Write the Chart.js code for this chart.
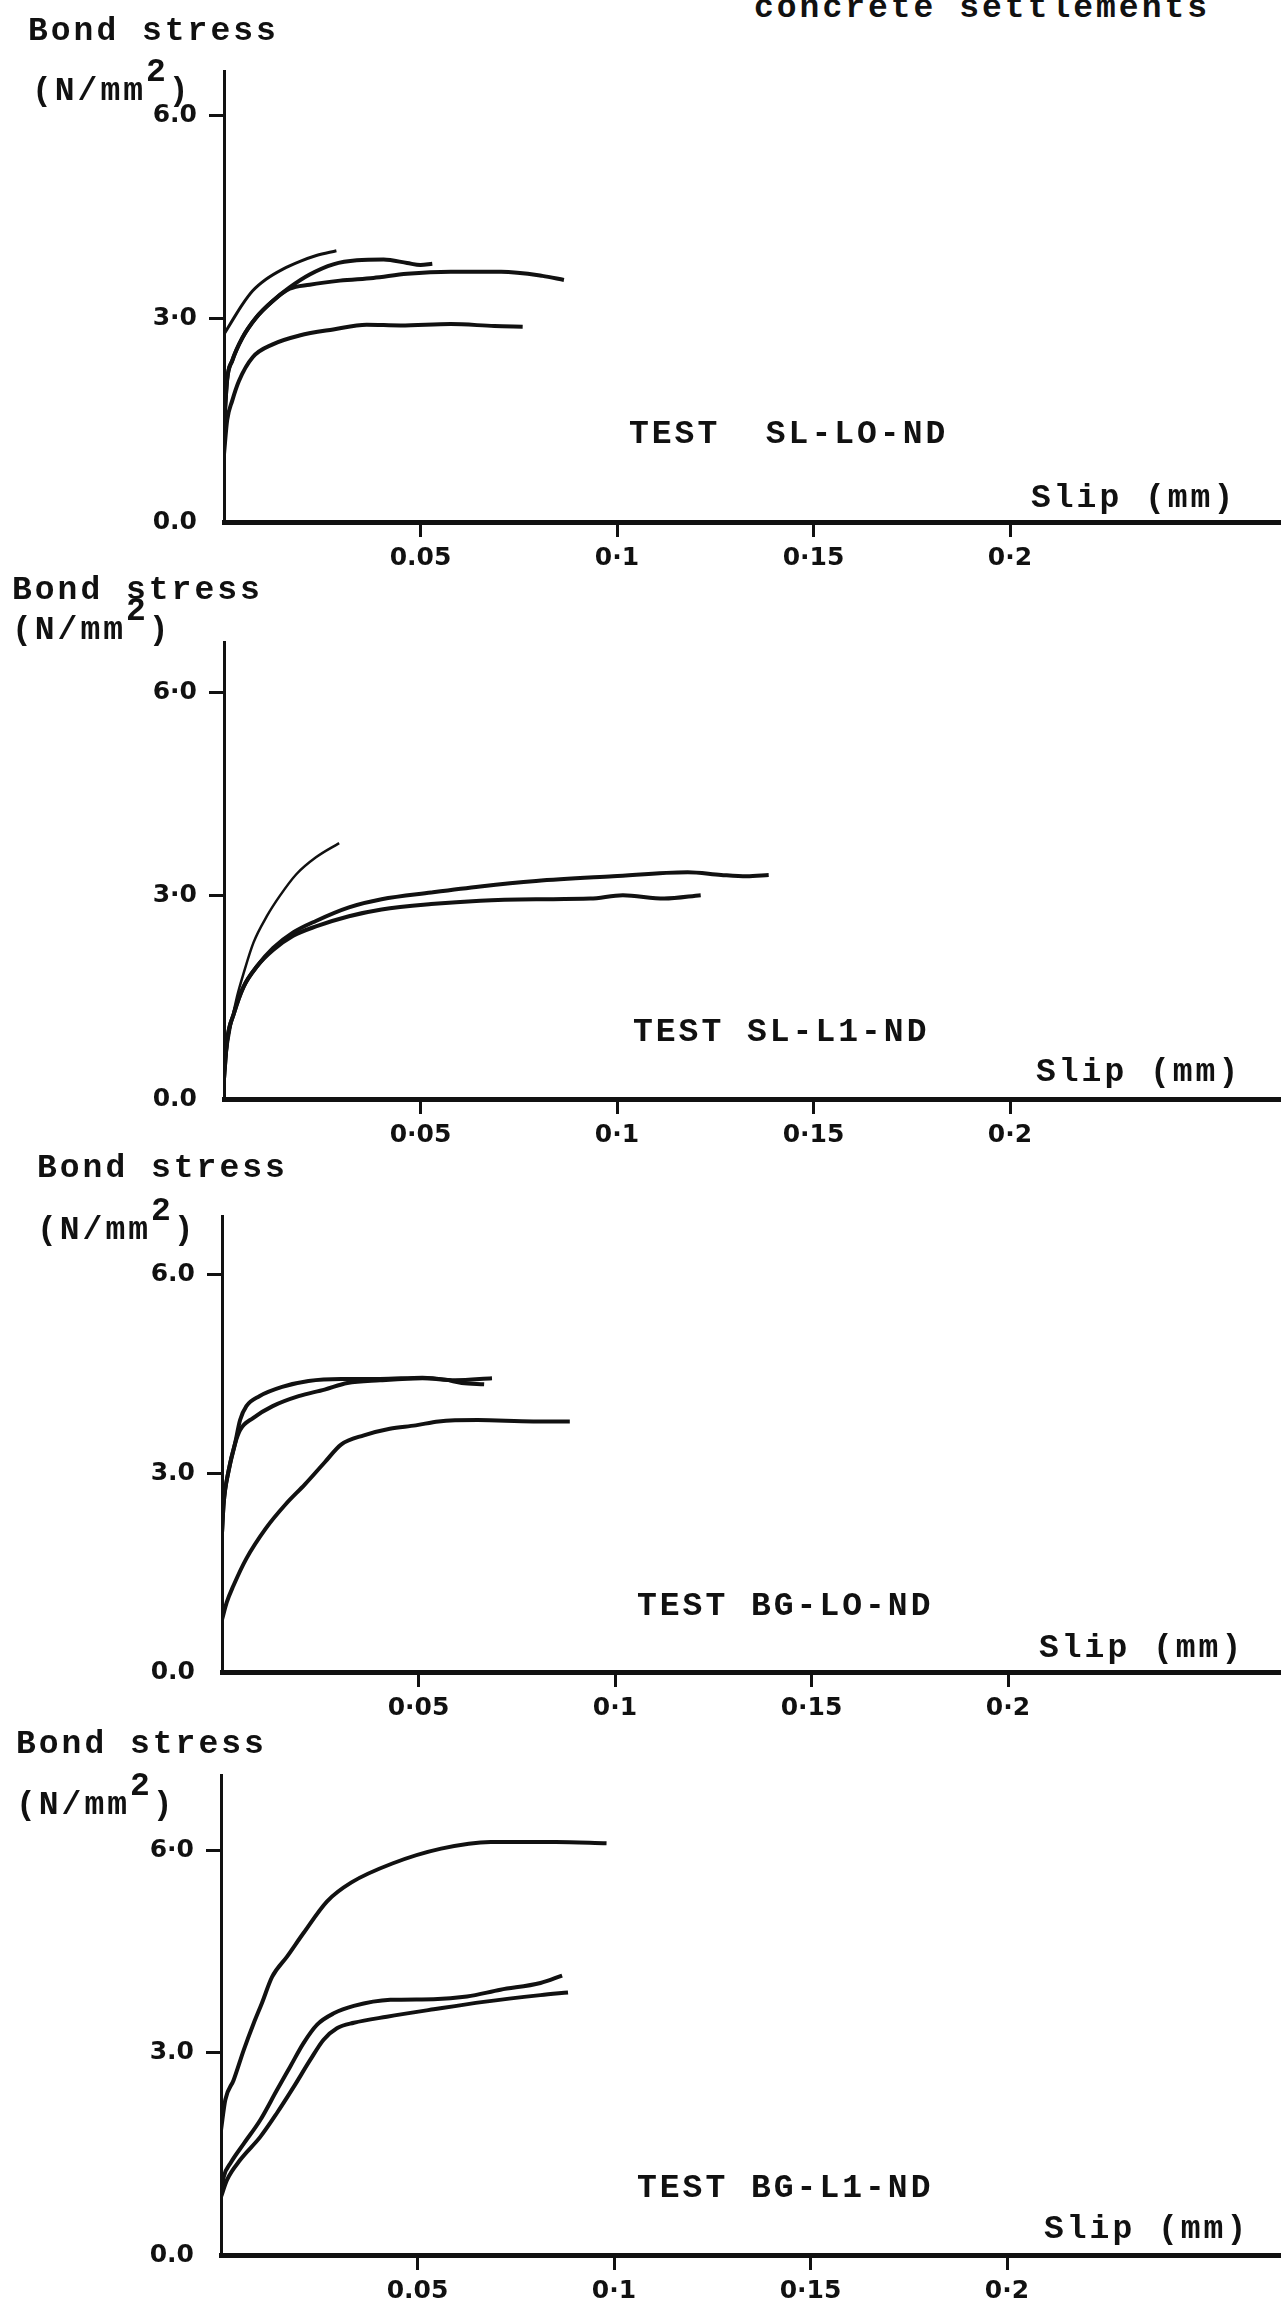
<!DOCTYPE html>
<html>
<head>
<meta charset="utf-8">
<script src="https://cdn.jsdelivr.net/npm/chart.js@4.4.1/dist/chart.umd.min.js"></script>
<style>
  html, body { margin: 0; padding: 0; background: #fff; }
  #page { position: relative; width: 1281px; height: 2313px; overflow: hidden; background: #fff; }
  #page canvas { position: absolute; left: 0; }
  .t {
    position: absolute; white-space: pre; color: #111;
    font-family: "Liberation Mono", "DejaVu Sans Mono", monospace;
    font-weight: bold; font-size: 33px; line-height: 30px; letter-spacing: 3px;
  }
  .t .sup { position: relative; top: -19px; }
</style>
</head>
<body>
<div id="page"></div>
<script>
// ---- data ----
const xTickVals = [0.05, 0.1, 0.15, 0.2];
const yTickVals = [0, 3, 6];

const testNames = ['TEST  SL-LO-ND', 'TEST SL-L1-ND', 'TEST BG-LO-ND', 'TEST BG-L1-ND'];
const xTickLabels = [
  ['0.05', '0·1', '0·15', '0·2'],
  ['0·05', '0·1', '0·15', '0·2'],
  ['0·05', '0·1', '0·15', '0·2'],
  ['0.05', '0·1', '0·15', '0·2']
];
const yTickLabels = [
  ['0.0', '3·0', '6.0'],
  ['0.0', '3·0', '6·0'],
  ['0.0', '3.0', '6.0'],
  ['0.0', '3.0', '6·0']
];

// slip (mm), bond stress (N/mm2)
const slL0a = [[0,2.77],[0.0021,2.97],[0.0047,3.21],[0.0073,3.41],[0.0107,3.58],[0.015,3.73],[0.0192,3.84],[0.0235,3.93],[0.0286,4.0]];
const slL0b = [[0,1.4],[0.0008,2.1],[0.0021,2.38],[0.0047,2.72],[0.0081,3.01],[0.0124,3.26],[0.0167,3.46],[0.0218,3.65],[0.0278,3.80],[0.0338,3.86],[0.0406,3.87],[0.0466,3.82],[0.05,3.79],[0.053,3.81]];
const slL0c = [[0,1.4],[0.0008,2.1],[0.0021,2.38],[0.0047,2.72],[0.0081,3.01],[0.0124,3.26],[0.0167,3.44],[0.0218,3.50],[0.0295,3.56],[0.038,3.60],[0.0466,3.66],[0.0577,3.69],[0.0705,3.69],[0.081,3.63],[0.0865,3.57]];
const slL0d = [[0,1.0],[0.0008,1.5],[0.0021,1.79],[0.0038,2.08],[0.0073,2.43],[0.0124,2.62],[0.0192,2.75],[0.0278,2.84],[0.0363,2.91],[0.0449,2.90],[0.0577,2.92],[0.0688,2.89],[0.076,2.88]];

const slL1a = [[0,0.3],[0.0004,0.57],[0.0017,1.07],[0.0033,1.51],[0.005,1.86],[0.0075,2.31],[0.0109,2.70],[0.0142,3.0],[0.0184,3.32],[0.0234,3.57],[0.0293,3.78]];
const slL1b = [[0,0.3],[0.0008,0.87],[0.0025,1.26],[0.005,1.66],[0.0084,1.96],[0.0125,2.23],[0.0176,2.46],[0.0234,2.63],[0.0318,2.83],[0.0401,2.95],[0.0527,3.05],[0.0652,3.14],[0.0794,3.22],[0.099,3.29],[0.118,3.35],[0.1265,3.31],[0.133,3.29],[0.1386,3.31]];
const slL1c = [[0,0.3],[0.0008,0.87],[0.0025,1.26],[0.005,1.66],[0.0084,1.96],[0.0125,2.20],[0.0176,2.41],[0.0234,2.55],[0.0318,2.70],[0.0401,2.80],[0.0527,2.88],[0.0652,2.93],[0.0794,2.95],[0.0932,2.96],[0.1015,3.01],[0.112,2.96],[0.1213,3.01]];

const bgL0a = [[0,2.1],[0.0004,2.53],[0.0017,3.04],[0.0033,3.44],[0.0046,3.80],[0.0062,4.01],[0.0095,4.16],[0.0153,4.30],[0.022,4.39],[0.0303,4.42],[0.0402,4.42],[0.051,4.44],[0.0568,4.41],[0.061,4.36],[0.0667,4.34]];
const bgL0b = [[0,2.1],[0.0004,2.53],[0.0017,3.04],[0.0033,3.44],[0.0046,3.65],[0.0079,3.83],[0.0129,4.01],[0.0195,4.16],[0.0261,4.26],[0.0319,4.36],[0.0402,4.40],[0.051,4.43],[0.0593,4.40],[0.0687,4.43]];
const bgL0c = [[0,0.79],[0.0012,1.05],[0.0029,1.30],[0.0062,1.71],[0.0112,2.17],[0.0162,2.53],[0.0211,2.83],[0.0261,3.16],[0.0303,3.43],[0.0361,3.57],[0.0427,3.67],[0.0493,3.72],[0.0551,3.78],[0.0651,3.80],[0.0792,3.78],[0.0885,3.78]];

const bgL1a = [[0,1.85],[0.0011,2.30],[0.0032,2.59],[0.0058,3.04],[0.0083,3.43],[0.0104,3.73],[0.013,4.12],[0.0168,4.42],[0.021,4.77],[0.027,5.24],[0.0332,5.52],[0.0436,5.80],[0.056,6.02],[0.0686,6.12],[0.0852,6.12],[0.0981,6.10]];
const bgL1b = [[0,0.9],[0.0007,1.16],[0.0024,1.36],[0.0058,1.65],[0.01,2.0],[0.0142,2.44],[0.0176,2.79],[0.021,3.14],[0.0244,3.41],[0.0287,3.58],[0.0338,3.69],[0.0431,3.78],[0.0541,3.79],[0.0626,3.83],[0.0711,3.93],[0.0813,4.03],[0.0868,4.14]];
const bgL1c = [[0,0.86],[0.0015,1.11],[0.0049,1.41],[0.01,1.75],[0.0142,2.10],[0.0185,2.49],[0.0227,2.89],[0.0261,3.19],[0.0295,3.36],[0.0338,3.44],[0.0422,3.53],[0.0541,3.64],[0.0668,3.75],[0.0813,3.85],[0.0883,3.89]];

const panelCurves = [
  [slL0a, slL0b, slL0c, slL0d],
  [slL1a, slL1b, slL1c],
  [bgL0a, bgL0b, bgL0c],
  [bgL1a, bgL1b, bgL1c]
];
const lineWidths = [[3, 4, 4, 4], [2.5, 4, 4], [4, 4, 4], [4, 4, 4]];

// ---- layout (page pixels) ----
const PAGE_W = 1281, PX_PER_MM = 3930, PAD_TOP = 34, X_AXIS_H = 70;
const frames = [
  { axisX: 224, axisTop: 71,   zero: 522,  ppu: 67.8 },
  { axisX: 224, axisTop: 642,  zero: 1099, ppu: 67.7 },
  { axisX: 222, axisTop: 1216, zero: 1672, ppu: 66.3 },
  { axisX: 221, axisTop: 1775, zero: 2255, ppu: 67.5 }
];
// text: [html, left, baseline]
const texts = [
  ['concrete settlements', 754, 18],
  ['Bond stress', 28, 41], ['(N/mm<span class="sup">2</span>)', 32, 101], [testNames[0], 629, 444], ['Slip (mm)', 1031, 508],
  ['Bond stress', 12, 600], ['(N/mm<span class="sup">2</span>)', 12, 640], [testNames[1], 633, 1042], ['Slip (mm)', 1036, 1082],
  ['Bond stress', 37, 1178], ['(N/mm<span class="sup">2</span>)', 37, 1240], [testNames[2], 637, 1616], ['Slip (mm)', 1039, 1658],
  ['Bond stress', 16, 1754], ['(N/mm<span class="sup">2</span>)', 16, 1815], [testNames[3], 637, 2198], ['Slip (mm)', 1044, 2239]
];

const page = document.getElementById('page');
const INK = '#111';
const tickFont = { family: 'DejaVu Sans', size: 25, weight: 'bold' };

frames.forEach((f, p) => {
  const cv = document.createElement('canvas');
  cv.width = PAGE_W;
  cv.height = PAD_TOP + (f.zero - f.axisTop) + X_AXIS_H;
  cv.style.top = (f.axisTop - PAD_TOP) + 'px';
  page.appendChild(cv);

  const xl = xTickLabels[p], yl = yTickLabels[p];
  new Chart(cv, {
    type: 'line',
    data: {
      datasets: panelCurves[p].map((c, j) => ({
        data: c.map(([x, y]) => ({ x, y })),
        borderColor: INK, borderWidth: lineWidths[p][j],
        pointRadius: 0, fill: false, cubicInterpolationMode: 'monotone'
      }))
    },
    options: {
      responsive: false, animation: false, devicePixelRatio: 1,
      layout: { padding: { top: PAD_TOP, left: 0, right: 0, bottom: 0 } },
      plugins: { legend: { display: false }, tooltip: { enabled: false } },
      scales: {
        x: {
          type: 'linear', min: 0, max: (PAGE_W - f.axisX) / PX_PER_MM,
          afterBuildTicks: s => { s.ticks = xTickVals.map(v => ({ value: v })); },
          afterFit: s => { s.height = X_AXIS_H; },
          border: { display: true, color: INK, width: 5 },
          grid: { drawOnChartArea: false, drawTicks: true, tickLength: 15, tickWidth: 3, tickColor: INK },
          ticks: { color: INK, padding: 6, font: tickFont, maxRotation: 0, autoSkip: false, callback: (v, i) => xl[i] }
        },
        y: {
          type: 'linear', min: 0, max: (f.zero - f.axisTop) / f.ppu,
          afterBuildTicks: s => { s.ticks = yTickVals.map(v => ({ value: v })); },
          afterFit: s => { s.width = f.axisX; },
          border: { display: true, color: INK, width: 3 },
          grid: {
            drawOnChartArea: false, drawTicks: true, tickLength: 15, tickWidth: 3,
            tickColor: ctx => (ctx.tick && ctx.tick.value === 0) ? 'rgba(0,0,0,0)' : INK
          },
          ticks: { color: INK, padding: 12, font: tickFont, autoSkip: false, callback: (v, i) => yl[i] }
        }
      }
    }
  });
});

texts.forEach(([html, x, base]) => {
  const d = document.createElement('div');
  d.className = 't';
  d.innerHTML = html;
  d.style.left = x + 'px';
  d.style.top = (base - 24) + 'px';
  page.appendChild(d);
});
</script>
</body>
</html>
